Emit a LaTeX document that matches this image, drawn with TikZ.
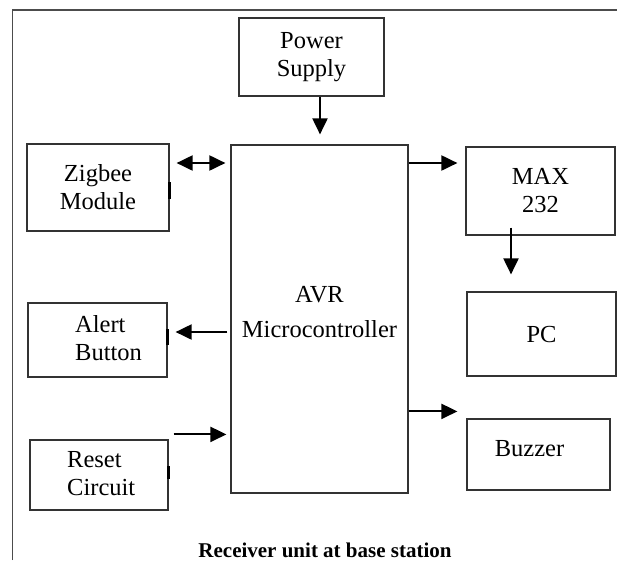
\documentclass[tikz,border=0pt]{standalone}
\usepackage{fontspec}
\setmainfont{Liberation Serif}
\usetikzlibrary{positioning, arrows.meta, calc}

\begin{document}
\begin{tikzpicture}[
  x=1pt, y=-1pt,
  every node/.style={font=\fontsize{24.5}{28}\selectfont},
  blk/.style={draw=black!80, line width=1.2pt, inner sep=0pt, align=center},
  txt/.style={inner sep=0pt, align=left},
  stub/.style={line width=2.5pt},
  arr/.style={-{Triangle[length=16pt, width=15pt]}, line width=2pt},
  darr/.style={{Triangle[length=16pt, width=15pt]}-{Triangle[length=16pt, width=15pt]}, line width=2pt}
]
\useasboundingbox (0,0) rectangle (617,560);
% outer frame
\draw[black!70, line width=1.2pt] (12.5,560) -- (12.5,10) -- (617,10);

% blocks
\node[blk, minimum width=145pt, minimum height=78pt] (ps) at (311.5,57) {Power\\Supply};
\node[blk, minimum width=177pt, minimum height=348pt] (avr) at (319.5,319) {};
\node[txt, align=center] (avrT) at (319.5,312.5) {AVR\\[7pt]Microcontroller};
\node[blk, minimum width=142pt, minimum height=87pt] (zig) at (98,187.5) {Zigbee\\Module};
\node[blk, minimum width=139pt, minimum height=74pt] (alert) at (97.5,340) {};
\node[txt, anchor=west] (alertT) at (75,338) {Alert\\Button};
\node[blk, minimum width=138pt, minimum height=70pt] (reset) at (99,475) {};
\node[txt, anchor=west] (resetT) at (67,473.5) {Reset\\Circuit};
\node[blk, minimum width=149pt, minimum height=88pt] (max) at (540.5,191) {MAX\\232};
\node[blk, minimum width=149pt, minimum height=84pt] (pc) at (541.5,334) {PC};
\node[blk, minimum width=143pt, minimum height=71pt] (buz) at (538.5,454.5) {};
\node[txt] (buzT) at (529.5,449) {Buzzer};

% small stubs on the block edges
\draw[stub] ([yshift=5.5pt]zig.east) -- ([yshift=-11.5pt]zig.east);
\draw[stub] ([yshift=11pt]alert.east) -- ([yshift=-5pt]alert.east);
\draw[stub] ([yshift=9pt]reset.east) -- ([yshift=-4pt]reset.east);

% connectors
\draw[arr, shorten >=10pt] ([xshift=8.5pt]ps.south) -- ([xshift=8.5pt]ps.south |- avr.north);
\draw[darr, shorten <=7pt, shorten >=5pt] ([yshift=24.5pt]zig.east) -- ([yshift=24.5pt]zig.east -| avr.west);
\draw[arr, shorten >=8pt] ([yshift=28pt]max.west -| avr.east) -- ([yshift=28pt]max.west);
\draw[arr, shorten >=17pt] ([xshift=-29.5pt, yshift=8pt]max.south) -- ([xshift=-29.5pt]max.south |- pc.north);
\draw[arr, shorten <=3pt, shorten >=8pt] ([yshift=8pt]alert.east -| avr.west) -- ([yshift=8pt]alert.east);
\draw[arr, shorten <=5pt, shorten >=4pt] ([yshift=5pt]reset.north east) -- ([yshift=5pt]reset.north east -| avr.west);
\draw[arr, shorten >=9pt] ([yshift=7pt]buz.north west -| avr.east) -- ([yshift=7pt]buz.north west);

% caption
\node[font=\bfseries\fontsize{21}{24}\selectfont, anchor=base] (cap) at (325,557) {Receiver unit at base station};
\end{tikzpicture}
\end{document}
